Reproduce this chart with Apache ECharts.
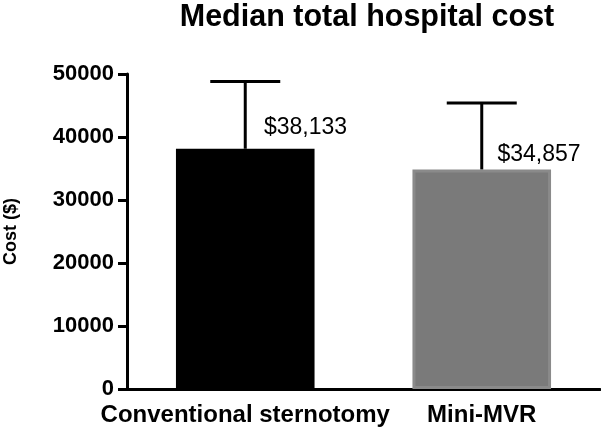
<!DOCTYPE html>
<html><head><meta charset="utf-8">
<script src="https://cdn.jsdelivr.net/npm/echarts@6/dist/echarts.min.js"></script>
<style>html,body{margin:0;padding:0;background:#fff}#c{width:601px;height:430px}</style>
</head><body><div id="c"></div>
<script>
const categories = ['Conventional sternotomy', 'Mini-MVR'];
const medians = [38133, 34857];
const errorTops = [48800, 45400];
const valueLabels = ['$38,133', '$34,857'];
const yTicks = [0, 10000, 20000, 30000, 40000, 50000];

const FONT = 'Liberation Sans, Arial, sans-serif';
const barColors = ['#000000', '#7a7a7a'];
const barBorders = ['#000000', '#8a8a8a'];
const labelPos = [[88, -21], [85, -15]];

const chart = echarts.init(document.getElementById('c'));
chart.setOption({
  animation: false,
  backgroundColor: '#fff',
  title: {
    text: 'Median total hospital cost', left: 362, top: -3, textAlign: 'center',
    textStyle: {fontFamily: FONT, fontWeight: 'bold', fontSize: 30.5, color: '#000'}
  },
  grid: {left: 127, right: 1, top: 74, bottom: 41, containLabel: false, outerBoundsMode: 'none'},
  xAxis: {
    type: 'category', data: categories,
    axisLine: {lineStyle: {color: '#000', width: 3}},
    axisTick: {alignWithLabel: true, length: 9, lineStyle: {color: '#000', width: 3}},
    axisLabel: {fontFamily: FONT, fontWeight: 'bold', fontSize: 24, color: '#000', margin: 14, interval: 0}
  },
  yAxis: {
    type: 'value', min: yTicks[0], max: yTicks[yTicks.length - 1], interval: 10000,
    name: 'Cost ($)', nameLocation: 'middle', nameGap: 107, nameRotate: 90,
    nameTextStyle: {fontFamily: FONT, fontWeight: 'bold', fontSize: 18, color: '#000'},
    axisLine: {show: true, lineStyle: {color: '#000', width: 3}},
    axisTick: {show: true, length: 9, lineStyle: {color: '#000', width: 3}},
    splitLine: {show: false},
    axisLabel: {fontFamily: FONT, fontWeight: 'bold', fontSize: 22, color: '#000', margin: 13,
      formatter: v => String(v)}
  },
  series: [
    {
      type: 'bar', barWidth: '58.6%', z: 2,
      data: medians.map((v, i) => ({
        value: v,
        itemStyle: {color: barColors[i], borderColor: barBorders[i], borderWidth: i === 1 ? 3 : 0},
        label: {
          show: true, position: labelPos[i], verticalAlign: 'middle', align: 'left',
          formatter: valueLabels[i], fontFamily: FONT, fontSize: 23, color: '#000'
        }
      }))
    },
    {
      type: 'custom', z: 3,
      data: medians.map((v, i) => [i, v, errorTops[i]]),
      renderItem: function (params, api) {
        const lo = api.coord([api.value(0), api.value(1)]);
        const hi = api.coord([api.value(0), api.value(2)]);
        const half = 35;
        const style = {stroke: '#000', lineWidth: 3};
        return {
          type: 'group',
          children: [
            {type: 'line', shape: {x1: lo[0], y1: lo[1], x2: hi[0], y2: hi[1]}, style: style},
            {type: 'line', shape: {x1: hi[0] - half, y1: hi[1], x2: hi[0] + half, y2: hi[1]}, style: style}
          ]
        };
      }
    }
  ]
});
</script></body></html>
